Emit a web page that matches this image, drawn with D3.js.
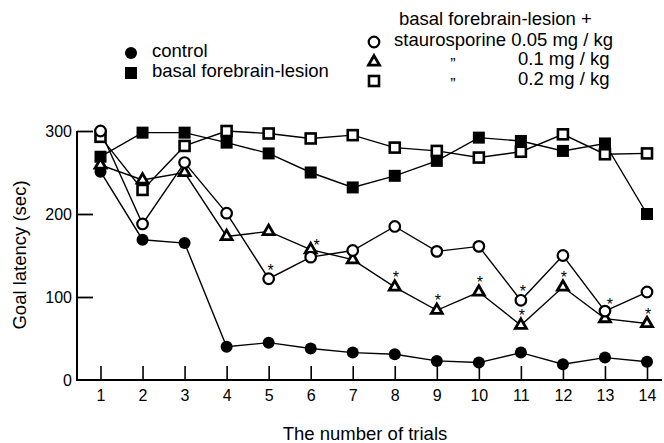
<!DOCTYPE html>
<html><head><meta charset="utf-8">
<script src="https://cdn.jsdelivr.net/npm/d3@7"></script>
<style>
html,body{margin:0;padding:0;background:#fff;}
svg{display:block;font-family:"Liberation Sans",Arial,Helvetica,sans-serif;}
</style></head>
<body>
<svg id="c" width="664" height="443"></svg>
<script>
const trials = [1,2,3,4,5,6,7,8,9,10,11,12,13,14];
const control    = [251,169,165,40,45,38,33,31,23,21,33,19,27,22];
const lesion     = [269,298,298,286,273,250,232,246,264,292,288,276,285,200];
const stauro005  = [300,188,262,201,122,148,156,185,155,161,96,150,83,106];
const stauro01   = [259,241,250,173,179,157,145,112,84,106,66,112,74,68];
const stauro02   = [293,229,282,300,297,291,295,280,276,268,275,296,272,273];
const yTicks = [0,100,200,300];
const yLabel = "Goal latency (sec)";
const xLabel = "The number of trials";
// significance markers: [trial, series]
const sigMarks = [[5,"s005"],[6,"s01"],[8,"s01"],[9,"s01"],[10,"s01"],[11,"s005"],[11,"s01"],[12,"s01"],[13,"s005"],[14,"s01"]];

const series = [
  {key:"control", values:control, shape:"circle", filled:true},
  {key:"lesion", values:lesion, shape:"square", filled:true},
  {key:"s02", values:stauro02, shape:"square", filled:false},
  {key:"s01", values:stauro01, shape:"triangle", filled:false},
  {key:"s005", values:stauro005, shape:"circle", filled:false}
];

const svg = d3.select("#c");
const x = d3.scaleLinear().domain([1,14]).range([100.5,647]);
const y = d3.scaleLinear().domain([0,300]).range([380,131]);

// axes
const xAxis = d3.axisBottom(x).tickValues(trials).tickFormat(d3.format("d")).tickSizeInner(-14).tickSizeOuter(0).tickPadding(8);
const gx = svg.append("g").attr("transform","translate(0,380)").call(xAxis);
gx.select(".domain").remove();
gx.append("line").attr("x1",77).attr("x2",662).attr("y1",0).attr("y2",0).attr("stroke","#000").attr("stroke-width",2);
gx.selectAll(".tick line").attr("stroke","#000").attr("stroke-width",1.6);
gx.selectAll(".tick text").attr("font-size",16).attr("fill","#000").attr("font-family","Liberation Sans, Arial, sans-serif").attr("dy","0.71em").attr("y",10);

const yAxis = d3.axisLeft(y).tickValues(yTicks).tickSizeInner(-16).tickSizeOuter(0).tickPadding(21);
const gy = svg.append("g").attr("transform","translate(77,0)").call(yAxis);
gy.select(".domain").remove();
gy.append("line").attr("x1",0).attr("x2",0).attr("y1",y(300)).attr("y2",381).attr("stroke","#000").attr("stroke-width",2);
gy.selectAll(".tick line").attr("stroke","#000").attr("stroke-width",1.8);
gy.selectAll(".tick").filter(d=>d===0).select("line").remove();
gy.selectAll(".tick text").attr("font-size",16).attr("fill","#000").attr("font-family","Liberation Sans, Arial, sans-serif").attr("x",-5);

// axis labels
svg.append("text").attr("transform","translate(19,255) rotate(-90)").attr("text-anchor","middle").attr("dy","0.36em").attr("font-size",18.5).text(yLabel);
svg.append("text").attr("x",365).attr("y",440).attr("text-anchor","middle").attr("font-size",18.5).text(xLabel);

// lines
const line = d3.line().x((d,i)=>x(trials[i])).y(d=>y(d));
series.forEach(s=>{
  svg.append("path").datum(s.values).attr("d",line).attr("fill","none").attr("stroke","#000").attr("stroke-width",1.4);
});

function drawMarker(g, shape, filled, cx, cy){
  if(shape==="circle"){
    if(filled) g.append("circle").attr("cx",cx).attr("cy",cy).attr("r",6).attr("fill","#000");
    else g.append("circle").attr("cx",cx).attr("cy",cy).attr("r",5.3).attr("fill","#fff").attr("stroke","#000").attr("stroke-width",2.2);
  } else if(shape==="square"){
    if(filled) g.append("rect").attr("x",cx-6).attr("y",cy-6).attr("width",12).attr("height",12).attr("fill","#000");
    else g.append("rect").attr("x",cx-5).attr("y",cy-5).attr("width",10).attr("height",10).attr("fill","#fff").attr("stroke","#000").attr("stroke-width",2.6);
  } else {
    g.append("path").attr("transform",`translate(${cx},${cy})`).attr("d",d3.symbol(d3.symbolTriangle,52)()).attr("fill","#fff").attr("stroke","#000").attr("stroke-width",2.8).attr("stroke-linejoin","miter");
  }
}

series.forEach(s=>{
  const g = svg.append("g");
  s.values.forEach((v,i)=>drawMarker(g, s.shape, s.filled, x(trials[i]), y(v)));
});

// significance asterisks
const sOffsets = {s005:{dx:2,dy:-12}, s01:{dx:1,dy:-13}};
const sMap = {s005:stauro005, s01:stauro01};
sigMarks.forEach(([t,k])=>{
  let off = sOffsets[k];
  let dx = off.dx, dy = off.dy;
  if(k==="s01" && t===6){dx=6;dy=-8;}
  if(k==="s005" && t===13){dx=5;dy=-10;}
  svg.append("text").attr("x",x(t)+dx).attr("y",y(sMap[k][t-1])+dy+9).attr("text-anchor","middle").attr("font-size",16).attr("fill","#000").text("*");
});

// legend left
const lg = svg.append("g");
drawMarker(lg,"circle",true,131,53);
lg.append("text").attr("x",152).attr("y",57).attr("font-size",18.5).text("control");
drawMarker(lg,"square",true,131,73);
lg.append("text").attr("x",152).attr("y",77).attr("font-size",18.5).text("basal forebrain-lesion");

// legend right
const rg = svg.append("g");
rg.append("text").attr("x",399).attr("y",25).attr("font-size",18.5).text("basal forebrain-lesion +");
drawMarker(rg,"circle",false,374,42);
rg.append("text").attr("x",394).attr("y",46).attr("font-size",18.5).text("staurosporine 0.05 mg / kg");
drawMarker(rg,"triangle",false,374,62);
rg.append("text").attr("x",453).attr("y",70).attr("font-size",16).attr("fill","#000").attr("text-anchor","middle").text("\u201D");
rg.append("text").attr("x",518).attr("y",65).attr("font-size",18.5).text("0.1 mg / kg");
drawMarker(rg,"square",false,374,81);
rg.append("text").attr("x",453).attr("y",90).attr("font-size",16).attr("fill","#000").attr("text-anchor","middle").text("\u201D");
rg.append("text").attr("x",518).attr("y",85).attr("font-size",18.5).text("0.2 mg / kg");
</script>
</body></html>
